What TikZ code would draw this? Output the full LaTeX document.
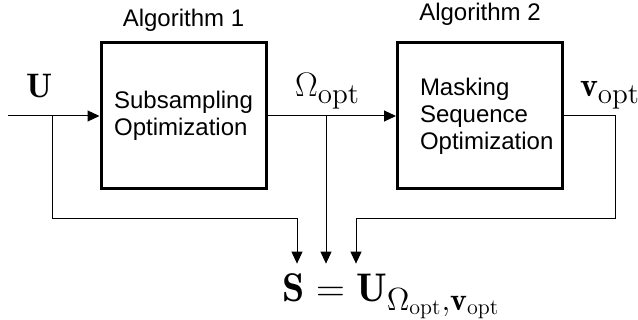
\RequirePackage{fix-cm}
\documentclass[tikz,border=0pt]{standalone}
\usepackage{amsmath}
\usepackage{amssymb}
\usepackage{fontspec}
\newfontfamily\arial{Liberation Sans}
\DeclareMathSizes{17}{17}{14.5}{10.5}
\DeclareMathSizes{20}{20}{16}{11}
\usepackage{tikz}
\usetikzlibrary{arrows.meta,positioning}

\begin{document}
\begin{tikzpicture}[x=0.5pt,y=-0.5pt,node distance=148.25pt,on grid,
	line width=0.5pt,>={Triangle[length=6pt,width=5.5pt]},
	block/.style={draw,line width=1.5pt,minimum width=82.5pt,minimum height=73pt,
		align=left,font=\arial\fontsize{12}{13.5}\selectfont},
	title/.style={font=\arial\fontsize{12}{13.5}\selectfont,inner sep=0pt},
	sym/.style={font=\fontsize{17}{20}\selectfont,inner sep=0pt,anchor=base}]
	\useasboundingbox (0,0) rectangle (638,320);

	\node[block] (alg1) at (183.5,116) {Subsampling\\Optimization};
	\node[block,text width=60pt] (alg2) [right=of alg1] {Masking\\Sequence\\Optimization};
	\node[title,anchor=base] (t1) at (183.5,27) {Algorithm 1};
	\node[title,anchor=base] (t2) at (alg2 |- t1) {Algorithm 2};

	\node[sym] (u) at (40,98) {$\mathbf{U}$};
	\node[sym] (omega) at (327.5,97) {$\Omega_{\mathrm{opt}}$};
	\node[sym] (vopt) at (610,97) {$\mathbf{v}_{\mathrm{opt}}$};
	\node[font=\fontsize{20}{23}\selectfont,inner sep=5pt,anchor=base] (s) at (391.5,302)
		{$\mathbf{S}=\mathbf{U}_{\Omega_{\mathrm{opt}},\mathbf{v}_{\mathrm{opt}}}$};

	\coordinate (in) at (8,116);
	\coordinate (b1) at (52,116);
	\coordinate (b2) at (326,116);
	\coordinate (c1) at (297,219);
	\coordinate (c3) at (615,219);
	\coordinate (c2) at (356,219);

	% main chain
	\draw[->] (in) -- (alg1);
	\draw[->] (alg1) -- (alg2);

	% feed to the result
	\draw[->] (b1) |- (c1) -- (c1 |- s.north);
	\draw[->] (b2) -- (b2 |- s.north);
	\draw[->] (alg2.east) -| (c3) -- (c2) -- (c2 |- s.north);
\end{tikzpicture}
\end{document}
